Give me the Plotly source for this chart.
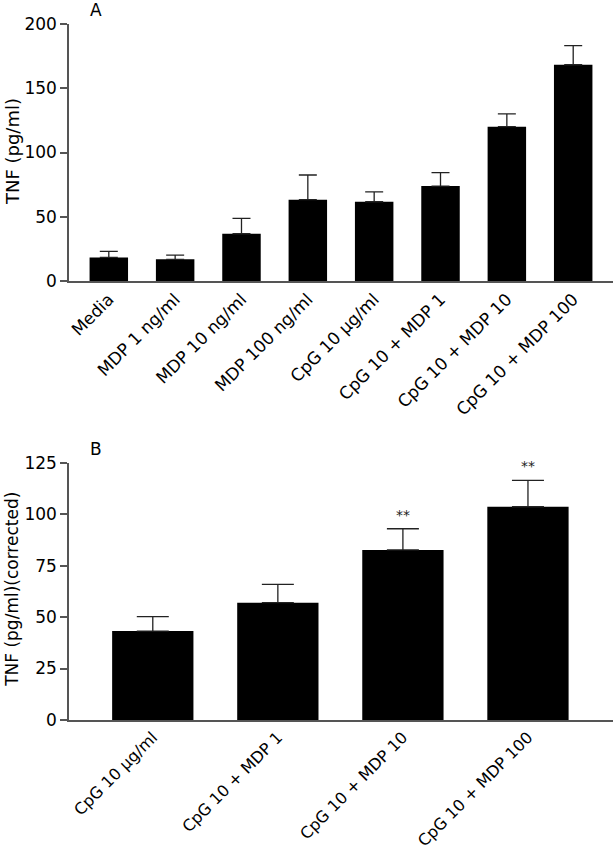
import plotly.graph_objects as go

# Panel A data
cats_a = ["Media", "MDP 1 ng/ml", "MDP 10 ng/ml", "MDP 100 ng/ml", "CpG 10 µg/ml",
          "CpG 10 + MDP 1", "CpG 10 + MDP 10", "CpG 10 + MDP 100"]
vals_a = [18.4, 16.9, 36.8, 63.3, 61.7, 73.9, 120.1, 168.3]
err_a = [4.7, 3.3, 12.0, 19.2, 7.6, 10.4, 9.9, 14.8]

# Panel B data
cats_b = ["CpG 10 µg/ml", "CpG 10 + MDP 1", "CpG 10 + MDP 10", "CpG 10 + MDP 100"]
vals_b = [43.2, 57.0, 82.6, 103.6]
err_b = [7.0, 8.9, 10.3, 12.8]
sig_b = ["", "", "**", "**"]

FONT = "'DejaVu Sans', sans-serif"
AX = "#555555"

fig = go.Figure()
fig.add_trace(go.Bar(
    x=cats_a, y=vals_a, width=0.58, marker=dict(color="black", line=dict(width=0)),
    error_y=dict(type="data", array=err_a, arrayminus=[0]*len(err_a), symmetric=False,
                 color="#222222", thickness=1.3, width=9),
    xaxis="x", yaxis="y", showlegend=False, hoverinfo="skip"))
fig.add_trace(go.Bar(
    x=cats_b, y=vals_b, width=0.65, marker=dict(color="black", line=dict(width=0)),
    error_y=dict(type="data", array=err_b, arrayminus=[0]*len(err_b), symmetric=False,
                 color="#222222", thickness=1.3, width=16),
    xaxis="x2", yaxis="y2", showlegend=False, hoverinfo="skip"))

for c, v, e, s in zip(cats_b, vals_b, err_b, sig_b):
    if s:
        fig.add_annotation(x=c, y=v + e, text=s, xref="x2", yref="y2", showarrow=False,
                           yanchor="bottom", yshift=4, font=dict(size=14, color="#222", family=FONT))

fig.add_annotation(text="A", xref="paper", yref="paper", x=0.05, y=1.0, yanchor="middle",
                   xanchor="center", showarrow=False, font=dict(size=17, color="black", family=FONT), yshift=14)
fig.add_annotation(text="B", xref="paper", yref="paper", x=0.05, y=0.3697, yanchor="middle",
                   xanchor="center", showarrow=False, font=dict(size=17, color="black", family=FONT), yshift=14)

# y-axis titles as rotated annotations
fig.add_annotation(text="TNF (pg/ml)", xref="paper", yref="paper", x=0, xshift=-57, y=0.816,
                   textangle=-90, showarrow=False, xanchor="center", yanchor="middle",
                   font=dict(size=18, color="black", family=FONT))
fig.add_annotation(text="TNF (pg/ml)(corrected)", xref="paper", yref="paper", x=0, xshift=-57, y=0.187,
                   textangle=-90, showarrow=False, xanchor="center", yanchor="middle",
                   font=dict(size=17, color="black", family=FONT))

xcommon = dict(showline=True, linecolor=AX, linewidth=1.5, ticks="", tickangle=-45, automargin=False,
               showgrid=False, zeroline=False)
ycommon = dict(showline=True, linecolor=AX, linewidth=1.5, ticks="outside", ticklen=7, automargin=False,
               tickcolor=AX, tickwidth=1.5, showgrid=False, zeroline=False,
               tickfont=dict(size=17, color="black", family=FONT))

fig.update_layout(
    width=613, height=853,
    margin=dict(l=69, r=0, t=24, b=133),
    plot_bgcolor="white", paper_bgcolor="white",
    font=dict(family=FONT, color="black"),
    xaxis=dict(domain=[0, 1], anchor="y", range=[-0.6, 7.6],
               tickfont=dict(size=17, color="black", family=FONT), **xcommon),
    yaxis=dict(domain=[0.6307, 1.0], anchor="x", range=[0, 200], tickvals=[0, 50, 100, 150, 200], **ycommon),
    xaxis2=dict(domain=[0, 1], anchor="y2", range=[-0.67, 3.68],
                tickfont=dict(size=16, color="black", family=FONT), **xcommon),
    yaxis2=dict(domain=[0, 0.3697], anchor="x2", range=[0, 125], tickvals=[0, 25, 50, 75, 100, 125], **ycommon),
)

fig.write_html("out.html", config={"displayModeBar": False},
               post_script="document.body.style.margin='0';")
